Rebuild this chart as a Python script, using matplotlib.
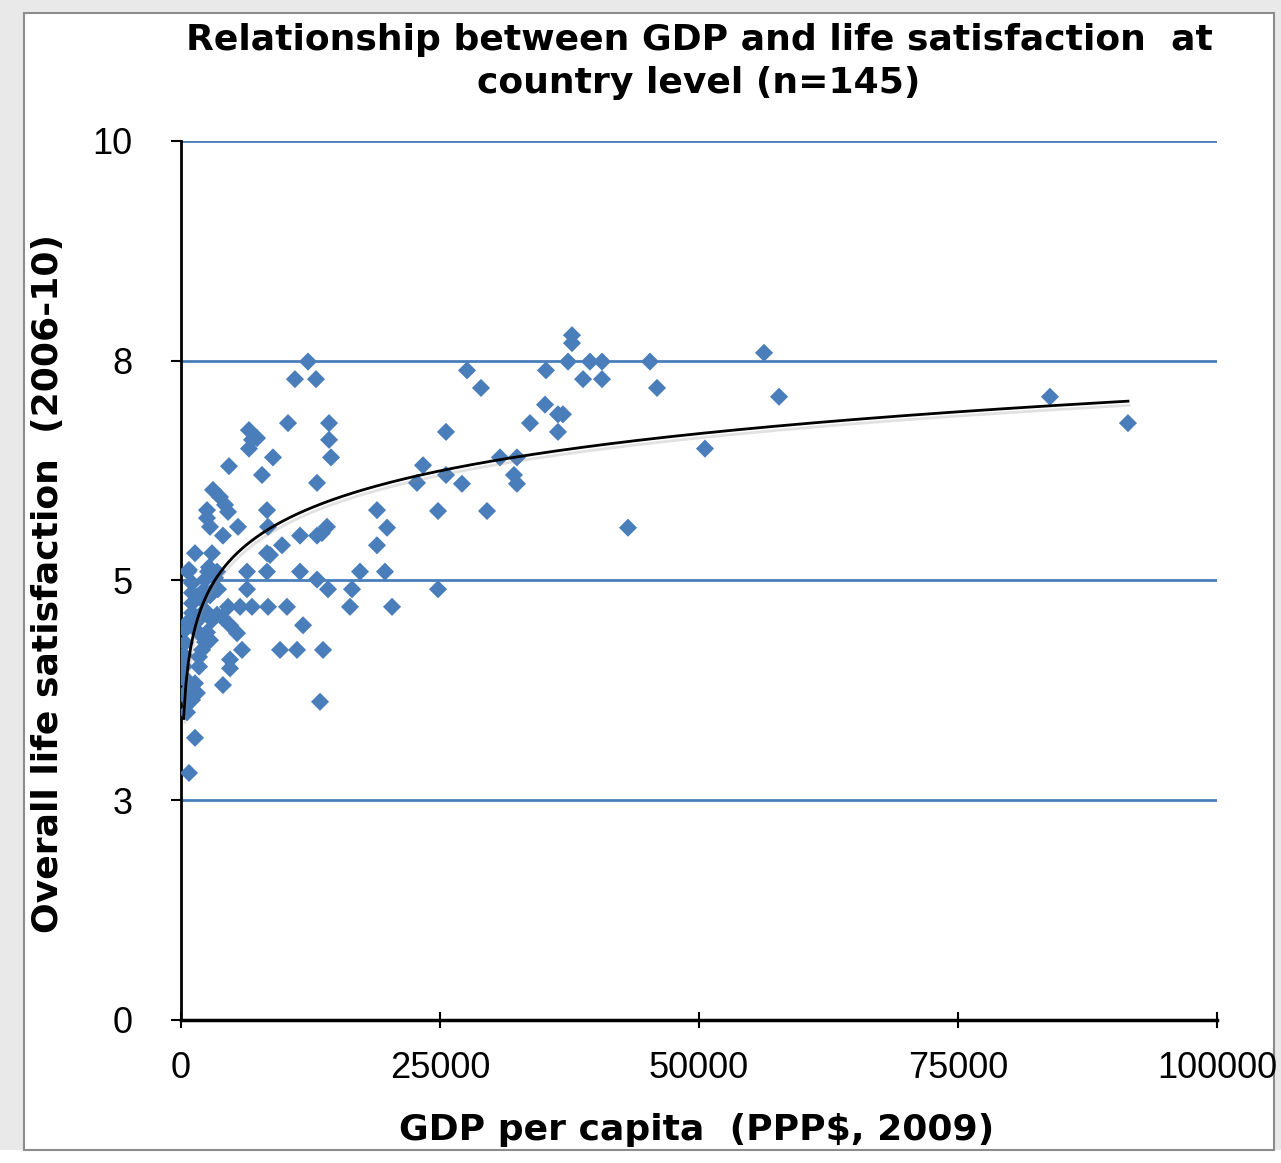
import numpy as np
import matplotlib.pyplot as plt
import matplotlib.patheffects as pe
from matplotlib.patches import Rectangle

# GDP per capita (PPP$, 2009) and life satisfaction (0-10)
gdp = [12260, 11000, 13030, 10330, 14290, 14290, 14480, 13130, 6560, 7340,
       6560, 6850, 8880, 4630, 7820, 3090, 3760, 4250, 4540, 2510,
       8300, 18920, 23360, 22780, 2510, 2800, 5500, 8400, 4050, 11490,
       13130, 13610, 14090, 19890, 18920, 1350, 2990, 8300, 8590, 9750,
       680, 2610, 3480, 6370, 8300, 11490, 17280, 19690, 13130, 14190,
       16510, 6370, 3570, 4540, 5700, 6850, 8400, 10230, 16310, 20370,
       3480, 4730, 5410, 11780, 2510, 5890, 4730, 4730, 9560, 11200,
       13710, 4050, 13420, 1350, 770,
       37740, 37740, 37360, 39480, 40640, 45270, 56280, 27610, 35230, 38810,
       40640, 28960, 45950, 57730, 35140, 36390, 36870, 33690, 36390, 25580,
       50580, 30790, 32430, 25580, 27120, 32140, 32430, 24810, 29540, 43150,
       24810, 83880, 91410,
       770, 2700, 1060, 2320, 3280, 1060, 2220, 3280, 1060, 2030,
       1060, 2320, 1350, 2990, 3960, 390, 1740, 2320, 390, 2030,
       290, 1740, 290, 1740, 390, 1350, 770, 1540, 1060, 580,
       250, 480, 290, 2800, 1640, 680, 2800]
life_sat = [7.49, 7.29, 7.29, 6.79, 6.79, 6.60, 6.40, 6.11, 6.71, 6.62,
            6.50, 6.60, 6.40, 6.30, 6.20, 6.03, 5.95, 5.86, 5.78, 5.80,
            5.80, 5.80, 6.31, 6.11, 5.71, 5.61, 5.61, 5.61, 5.51, 5.51,
            5.51, 5.54, 5.61, 5.60, 5.40, 5.31, 5.31, 5.31, 5.29, 5.40,
            5.10, 5.10, 5.10, 5.10, 5.10, 5.10, 5.10, 5.10, 5.01, 4.90,
            4.90, 4.90, 4.90, 4.70, 4.70, 4.70, 4.70, 4.70, 4.70, 4.70,
            4.61, 4.49, 4.40, 4.49, 4.41, 4.21, 4.10, 4.00, 4.21, 4.21,
            4.21, 3.81, 3.62, 3.21, 2.81,
            7.79, 7.70, 7.49, 7.49, 7.49, 7.49, 7.59, 7.39, 7.39, 7.29,
            7.29, 7.19, 7.19, 7.09, 7.00, 6.89, 6.89, 6.79, 6.69, 6.69,
            6.50, 6.40, 6.40, 6.20, 6.10, 6.20, 6.10, 5.79, 5.79, 5.60,
            4.90, 7.09, 6.79,
            5.12, 5.15, 4.97, 5.01, 5.03, 4.86, 4.89, 4.91, 4.74, 4.78,
            4.63, 4.66, 4.52, 4.55, 4.58, 4.44, 4.40, 4.30, 4.29, 4.21,
            4.15, 4.13, 4.02, 4.02, 3.87, 3.83, 3.75, 3.72, 3.64, 3.50,
            3.70, 3.68, 3.90, 4.83, 4.55, 4.53, 4.32]

y_ticks = [0, 2.5, 5, 7.5, 10]
y_tick_labels = ['0', '3', '5', '8', '10']
x_ticks = [0, 25000, 50000, 75000, 100000]
x_tick_labels = ['0', '25000', '50000', '75000', '100000']

gdp = np.array(gdp)
life_sat = np.array(life_sat)
print(len(gdp), len(life_sat))

# logarithmic trend line, like Excel's
b, a = np.polyfit(np.log(gdp), life_sat, 1)
print('fit', a, b)
xs = np.linspace(gdp.min(), gdp.max(), 400)
ys = a + b*np.log(xs)

blue = '#4a7ebb'
tick_font = ['Liberation Sans', 'DejaVu Sans']

fig = plt.figure(figsize=(12.81, 11.63), dpi=100, facecolor='#e9e9e9')
fig.add_artist(Rectangle((0, 0), 1, 0.0112, transform=fig.transFigure,
                         facecolor='white', edgecolor='none', zorder=-2))
fig.add_artist(Rectangle((0.0187, 0.0112), 0.9758, 0.9776, transform=fig.transFigure,
                         facecolor='white', edgecolor='#8c8c8c', lw=1.5, zorder=-1))

ax = fig.add_axes([0.1413, 0.123, 0.8087, 0.7558])
ax.set_zorder(1)
ax.set_facecolor('none')
ax.set_xlim(0, 100000)
ax.set_ylim(0, 10)

for yv in y_ticks[1:]:
    ax.axhline(yv, color=blue, lw=2, zorder=1)

ax.scatter(gdp, life_sat, marker='D', s=85, color=blue, edgecolors='none', zorder=3)
ax.plot(xs, ys, color='black', lw=2, zorder=4,
        path_effects=[pe.SimpleLineShadow(offset=(1, -3), shadow_color='#888888', alpha=0.25),
                      pe.Normal()])

ax.spines['top'].set_visible(False)
ax.spines['right'].set_visible(False)
ax.spines['left'].set_linewidth(2)
ax.spines['bottom'].set_linewidth(2.5)

ax.set_yticks(y_ticks)
ax.set_yticklabels(y_tick_labels, family=tick_font, fontsize=26)
ax.set_xticks(x_ticks)
ax.set_xticklabels(x_tick_labels, family=tick_font, fontsize=26)
ax.tick_params(axis='y', direction='out', length=7, width=1.5, pad=28)
ax.tick_params(axis='x', direction='inout', length=12, width=1.5, pad=16)

fig.text(0.5457, 0.9656, 'Relationship between GDP and life satisfaction  at',
         ha='center', va='center', fontsize=26, fontweight='bold')
fig.text(0.5457, 0.9286, 'country level (n=145)',
         ha='center', va='center', fontsize=26, fontweight='bold')
fig.text(0.544, 0.0284, 'GDP per capita  (PPP$, 2009)',
         ha='center', va='center', fontsize=26, fontweight='bold')
fig.text(0.0375, 0.4987, 'Overall life satisfaction  (2006-10)', rotation=90,
         ha='center', va='center', fontsize=26, fontweight='bold')

fig.savefig('out.png', dpi=100, facecolor=fig.get_facecolor())
